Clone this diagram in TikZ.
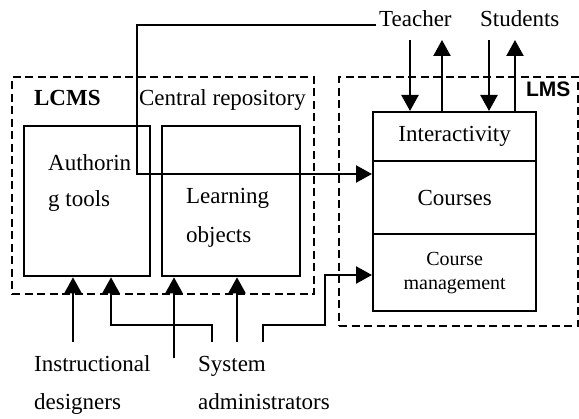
\documentclass[tikz,border=0pt]{standalone}
\usepackage{fontspec}
\setmainfont{Liberation Serif}
\newfontfamily\lmssans{Liberation Sans}
\usetikzlibrary{arrows.meta}
\begin{document}
\begin{tikzpicture}[x=1pt,y=-1pt,line width=2.3pt,
  box/.style={draw,rectangle,inner sep=0pt,anchor=north west},
  dbox/.style={draw,rectangle,dash pattern=on 8pt off 4.5pt,inner sep=0pt,anchor=north west},
  lbl/.style={inner sep=0pt,font=\fontsize{23}{27}\selectfont},
  arr/.style={-{Triangle[length=16pt,width=17pt]}}]
\useasboundingbox (0,0) rectangle (579,419);
% dashed groups
\node[dbox,minimum width=302pt,minimum height=217pt] (lcms) at (11,76) {};
\node[dbox,minimum width=239pt,minimum height=249pt] (lms) at (338,76) {};
% LCMS boxes
\node[box,minimum width=126pt,minimum height=150pt] (auth) at (23,125) {};
\node[box,minimum width=138pt,minimum height=150pt] (lo) at (161,125) {};
% LMS stack
\node[box,minimum width=163pt,minimum height=49pt,lbl] (inter) at (372,111) {Interactivity};
\node[box,minimum width=163pt,minimum height=73pt,lbl] (courses) at (372,160) {Courses};
\node[box,minimum width=163pt,minimum height=77pt,align=center,
  font=\fontsize{20}{24}\selectfont] (cm) at (372,233) {Course\\management};
% labels
\node[lbl,anchor=base west,font=\fontsize{23}{27}\selectfont\bfseries] (lcmsl) at (33,106) {LCMS};
\node[lbl,anchor=base west] (central) at (138,106) {Central repository};
\node[lbl,anchor=base west,font=\fontsize{21}{25}\selectfont\lmssans\bfseries] (lmsl) at (525,97) {LMS};
\node[lbl,anchor=base west] (auth1) at (47,171) {Authorin};
\node[lbl,anchor=base west] (auth2) at (47,207) {g tools};
\node[lbl,anchor=base west] (lo1) at (185,204) {Learning};
\node[lbl,anchor=base west] (lo2) at (185,243) {objects};
\node[lbl,anchor=base west] (teacher) at (378,27) {Teacher};
\node[lbl,anchor=base west] (students) at (479,27) {Students};
\node[lbl,anchor=base west] (instr1) at (33,372) {Instructional};
\node[lbl,anchor=base west] (instr2) at (33,410) {designers};
\node[lbl,anchor=base west] (sys1) at (197,372) {System};
\node[lbl,anchor=base west] (sys2) at (197,410) {administrators};
% teacher long connector
\coordinate (tl0) at (376,25);
\coordinate (tl1) at (137,25);
\coordinate (tl2) at (137,174);
\draw[arr] (tl0) -- (tl1) -- (tl2) -- (courses.west |- tl2);
% teacher / students arrows
\coordinate (ta) at (410,40);
\coordinate (tb) at (442,40);
\coordinate (sa) at (489,40);
\coordinate (sb) at (515,40);
\draw[arr] (ta) -- (ta |- inter.north);
\draw[arr] (tb |- inter.north) -- (tb);
\draw[arr] (sa) -- (sa |- inter.north);
\draw[arr] (sb |- inter.north) -- (sb);
% bottom arrows
\coordinate (b1) at (73,342);
\draw[arr] (b1) -- (b1 |- auth.south);
\coordinate (b2) at (212,342);
\coordinate (b2a) at (212,325);
\coordinate (b2b) at (111,325);
\draw[arr] (b2) -- (b2a) -- (b2b) -- (b2b |- auth.south);
\coordinate (b3) at (174,358);
\draw[arr] (b3) -- (b3 |- lo.south);
\coordinate (b4) at (237,342);
\draw[arr] (b4) -- (b4 |- lo.south);
\coordinate (b5) at (263,342);
\coordinate (b5a) at (263,325);
\coordinate (b5b) at (325,325);
\coordinate (b5c) at (325,275);
\draw[arr] (b5) -- (b5a) -- (b5b) -- (b5c) -- (cm.west |- b5c);
\end{tikzpicture}
\end{document}
